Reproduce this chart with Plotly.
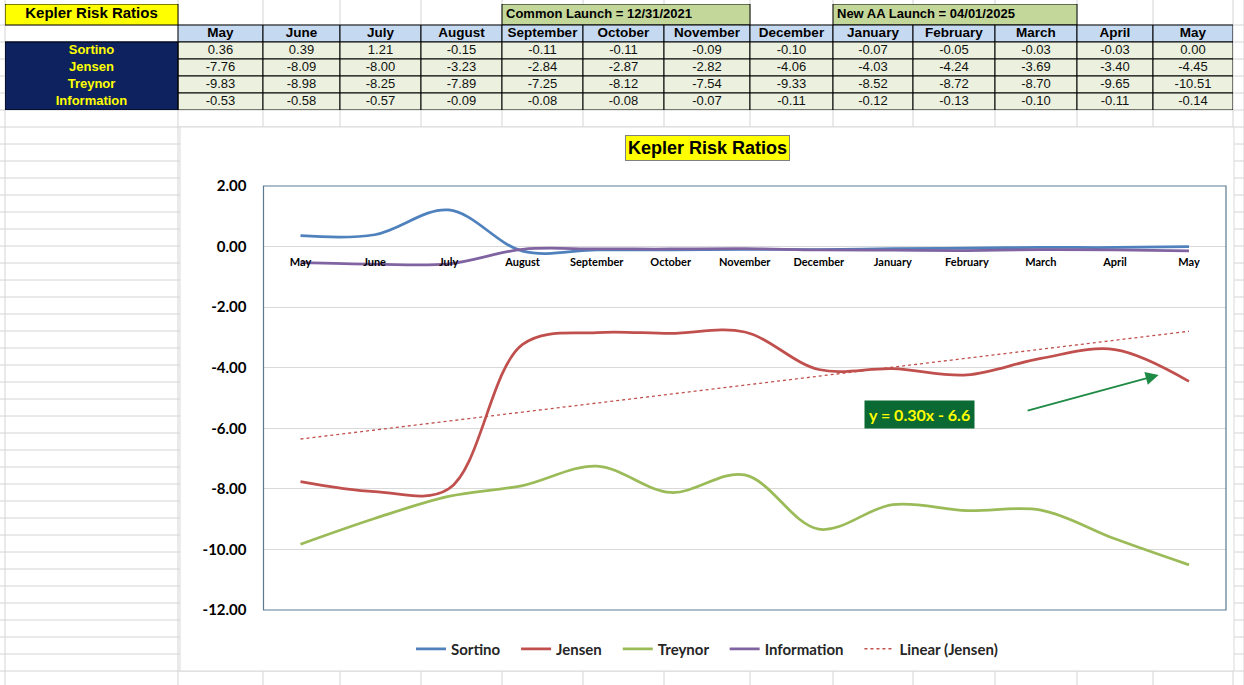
import numpy as np
import plotly.graph_objects as go

# ---------------- data ----------------
MONTHS = ["May", "June", "July", "August", "September", "October", "November",
          "December", "January", "February", "March", "April", "May"]
SERIES_NAMES = ["Sortino", "Jensen", "Treynor", "Information"]
SORTINO = [0.36, 0.39, 1.21, -0.15, -0.11, -0.11, -0.09, -0.10, -0.07, -0.05, -0.03, -0.03, 0.00]
JENSEN = [-7.76, -8.09, -8.00, -3.23, -2.84, -2.87, -2.82, -4.06, -4.03, -4.24, -3.69, -3.40, -4.45]
TREYNOR = [-9.83, -8.98, -8.25, -7.89, -7.25, -8.12, -7.54, -9.33, -8.52, -8.72, -8.70, -9.65, -10.51]
INFORMATION = [-0.53, -0.58, -0.57, -0.09, -0.08, -0.08, -0.07, -0.11, -0.12, -0.13, -0.10, -0.11, -0.14]
Y_TICKS = [2, 0, -2, -4, -6, -8, -10, -12]
TITLE = "Kepler Risk Ratios"
NOTE_COMMON = "Common Launch = 12/31/2021"
NOTE_AA = "New AA Launch = 04/01/2025"
TREND_NAME = "Linear (Jensen)"
TREND_LABEL = "y = 0.30x - 6.6"

# ---------------- layout constants ----------------
W, H = 1244, 685
def px(x):
    return x / W
def py(y):
    return 1 - y / H

COLORS = {"Sortino": "#4f81bd", "Jensen": "#c0504d", "Treynor": "#9bbb59", "Information": "#8064a2"}
CHART_FONT = "Lato, Carlito, Calibri, sans-serif"
TABLE_FONT = "Liberation Sans, Arial, sans-serif"
NUM_FONT = "Liberation Sans Narrow, Arial Narrow, Liberation Sans, Arial, sans-serif"
LEG_PAD = "\u00a0" * 3

TABLE_LEFT, TABLE_TOP = 5, 4
COL_W = [173, 85, 77, 81, 81, 81, 81, 86, 83, 80, 82, 82, 76, 80]
ROW_H = [21, 17, 17, 17, 17, 17]
col_edges = np.concatenate([[0], np.cumsum(COL_W)])
row_edges = np.concatenate([[0], np.cumsum(ROW_H)])
TW, TH = col_edges[-1], row_edges[-1]
col_c = (col_edges[:-1] + col_edges[1:]) / 2
row_c = (row_edges[:-1] + row_edges[1:]) / 2

PLOT_L, PLOT_R, PLOT_T, PLOT_B = 263.5, 1226, 186, 610
CHART_BOX = (180, 127, 1234, 671)

X = np.arange(1, len(MONTHS) + 1)
slope, intercept = np.polyfit(X, JENSEN, 1)
TREND = slope * X + intercept

fig = go.Figure()

series = {"Sortino": SORTINO, "Jensen": JENSEN, "Treynor": TREYNOR, "Information": INFORMATION}
for name in SERIES_NAMES:
    fig.add_trace(go.Scatter(
        x=X, y=series[name], name=name + LEG_PAD, mode="lines",
        line=dict(color=COLORS[name], width=2.75, shape="spline", smoothing=1.0),
        hoverinfo="skip"))
fig.add_trace(go.Scatter(
    x=X, y=TREND, name=TREND_NAME, mode="lines",
    line=dict(color="#c0504d", width=1.3, dash="dot"), hoverinfo="skip"))

# ---------------- table via second axes ----------------
fig.add_trace(go.Scatter(
    x=list(col_c[1:]), y=[row_c[1]] * len(MONTHS), mode="text", text=[f"<b>{m}</b>" for m in MONTHS],
    textfont=dict(family=TABLE_FONT, size=13.5, color="black"),
    xaxis="x2", yaxis="y2", showlegend=False, hoverinfo="skip", cliponaxis=False))
fig.add_trace(go.Scatter(
    x=[col_c[0]] * 4, y=list(row_c[2:]), mode="text", text=[f"<b>{n}</b>" for n in SERIES_NAMES],
    textfont=dict(family=TABLE_FONT, size=13, color="#ffff00"),
    xaxis="x2", yaxis="y2", showlegend=False, hoverinfo="skip", cliponaxis=False))
nx, ny, nt = [], [], []
for r, name in enumerate(SERIES_NAMES):
    for c, v in enumerate(series[name]):
        nx.append(col_c[c + 1]); ny.append(row_c[r + 2]); nt.append(f"{v:.2f}")
fig.add_trace(go.Scatter(
    x=nx, y=ny, mode="text", text=nt,
    textfont=dict(family=NUM_FONT, size=13, color="#111111"),
    xaxis="x2", yaxis="y2", showlegend=False, hoverinfo="skip", cliponaxis=False))
fig.add_trace(go.Scatter(
    x=[col_c[0], col_edges[5] + 4, col_edges[9] + 4], y=[row_c[0]] * 3, mode="text",
    text=[f"<b>{TITLE}</b>", f"<b>{NOTE_COMMON}</b>", f"<b>{NOTE_AA}</b>"],
    textposition=["middle center", "middle right", "middle right"],
    textfont=dict(family=TABLE_FONT, size=[15, 13, 13], color="black"),
    xaxis="x2", yaxis="y2", showlegend=False, hoverinfo="skip", cliponaxis=False))

shapes = []
GRID = "#d4d4d4"
# spreadsheet gridlines (background)
for xe in list(TABLE_LEFT + col_edges) + [1244]:
    shapes.append(dict(type="line", xref="paper", yref="paper", x0=px(xe), x1=px(xe), y0=0, y1=1,
                       line=dict(color=GRID, width=1), layer="below"))
for ye in list(TABLE_TOP + row_edges[1:]) + list(range(int(TABLE_TOP + TH) + 17, H + 17, 17)):
    shapes.append(dict(type="line", xref="paper", yref="paper", x0=0, x1=1, y0=py(ye), y1=py(ye),
                       line=dict(color=GRID, width=1), layer="below"))
# chart area
shapes.append(dict(type="rect", xref="paper", yref="paper",
                   x0=px(CHART_BOX[0]), x1=px(CHART_BOX[2]), y0=py(CHART_BOX[3]), y1=py(CHART_BOX[1]),
                   fillcolor="white", line=dict(color="#d9d9d9", width=1), layer="below"))
# plot border
shapes.append(dict(type="rect", xref="x domain", yref="y domain", x0=0, x1=1, y0=0, y1=1,
                   line=dict(color="#5b7a91", width=1.2), layer="above"))

def cell(c0, c1, r, fill, border="black"):
    shapes.append(dict(type="rect", xref="x2", yref="y2",
                       x0=col_edges[c0], x1=col_edges[c1], y0=row_edges[r], y1=row_edges[r + 1],
                       fillcolor=fill, line=dict(color=border, width=1), layer="below"))

cell(0, 1, 0, "#ffff00")
cell(5, 8, 0, "#c4d79b")
cell(9, 12, 0, "#c4d79b")
for c in range(1, len(COL_W)):
    cell(c, c + 1, 1, "#c5d9f1")
for r in range(2, 6):
    cell(0, 1, r, "#0e2260", border="#0e2260")
    for c in range(1, len(COL_W)):
        cell(c, c + 1, r, "#ebf1de")
shapes.append(dict(type="rect", xref="x2", yref="y2", x0=0, x1=col_edges[1], y0=row_edges[2], y1=row_edges[6],
                   line=dict(color="black", width=1), layer="below"))

# ---------------- axes ----------------
y_dom = [py(PLOT_B), py(PLOT_T)]
y_rng = [-12, 2]
x_pos = y_dom[0] + (y_dom[1] - y_dom[0]) * (0 - y_rng[0]) / (y_rng[1] - y_rng[0])

annotations = [
    dict(xref="paper", yref="paper", x=px(707), y=py(147.5), text=f"<b>{TITLE}</b>", showarrow=False,
         font=dict(family=TABLE_FONT, size=18, color="black"), bgcolor="#ffff00",
         bordercolor="#7f7f7f", borderwidth=1, borderpad=2, xanchor="center", yanchor="middle"),
    dict(xref="x", yref="y", x=9.36, y=-5.53, text=f"<b>{TREND_LABEL}</b>", showarrow=False,
         font=dict(family=CHART_FONT, size=16, color="#ffff00"), bgcolor="#0b6a33",
         borderpad=4, xanchor="center", yanchor="middle"),
    dict(xref="x", yref="y", axref="x", ayref="y", x=12.59, y=-4.24, ax=10.80, ay=-5.43, text="",
         showarrow=True, arrowhead=2, arrowsize=1.3, arrowwidth=2, arrowcolor="#1f8a45", standoff=0),
]

fig.update_layout(
    width=W, height=H, autosize=False,
    margin=dict(l=0, r=0, t=0, b=0, pad=0, autoexpand=False),
    paper_bgcolor="white", plot_bgcolor="rgba(0,0,0,0)",
    showlegend=True,
    legend=dict(orientation="h", x=px(707), xanchor="center", y=py(649), yanchor="middle",
                font=dict(family=CHART_FONT, size=15, color="#262626", weight="bold"),
                bgcolor="rgba(0,0,0,0)", itemwidth=30, traceorder="normal"),
    xaxis=dict(domain=[px(PLOT_L), px(PLOT_R)], range=[0.5, len(MONTHS) + 0.5], automargin=False,
               tickmode="array", tickvals=X, ticktext=MONTHS, anchor="free", position=x_pos,
               showgrid=False, zeroline=False, showline=False, ticks="", ticklabelstandoff=7,
               tickfont=dict(family=CHART_FONT, size=11, color="black", weight="bold")),
    yaxis=dict(domain=y_dom, range=y_rng, tickmode="array", tickvals=Y_TICKS, automargin=False,
               ticktext=[f"{v:.2f}" for v in Y_TICKS], anchor="x",
               showgrid=True, gridcolor="#d9d9d9", gridwidth=1, zeroline=True, zerolinecolor="#d9d9d9",
               zerolinewidth=1, showline=False, ticks="", ticklabelstandoff=16,
               tickfont=dict(family=CHART_FONT, size=15, color="black", weight="bold")),
    xaxis2=dict(domain=[px(TABLE_LEFT), px(TABLE_LEFT + TW)], range=[0, TW], anchor="y2",
                visible=False, fixedrange=True, automargin=False),
    yaxis2=dict(domain=[py(TABLE_TOP + TH), py(TABLE_TOP)], range=[TH, 0], anchor="x2",
                visible=False, fixedrange=True, automargin=False),
    shapes=shapes, annotations=annotations,
)

POST = ("document.documentElement.style.overflow='hidden';"
        "document.body.style.margin='0';document.body.style.overflow='hidden';")

fig.write_html("out.html", include_plotlyjs=True,
               config={"displayModeBar": False}, post_script=POST)
